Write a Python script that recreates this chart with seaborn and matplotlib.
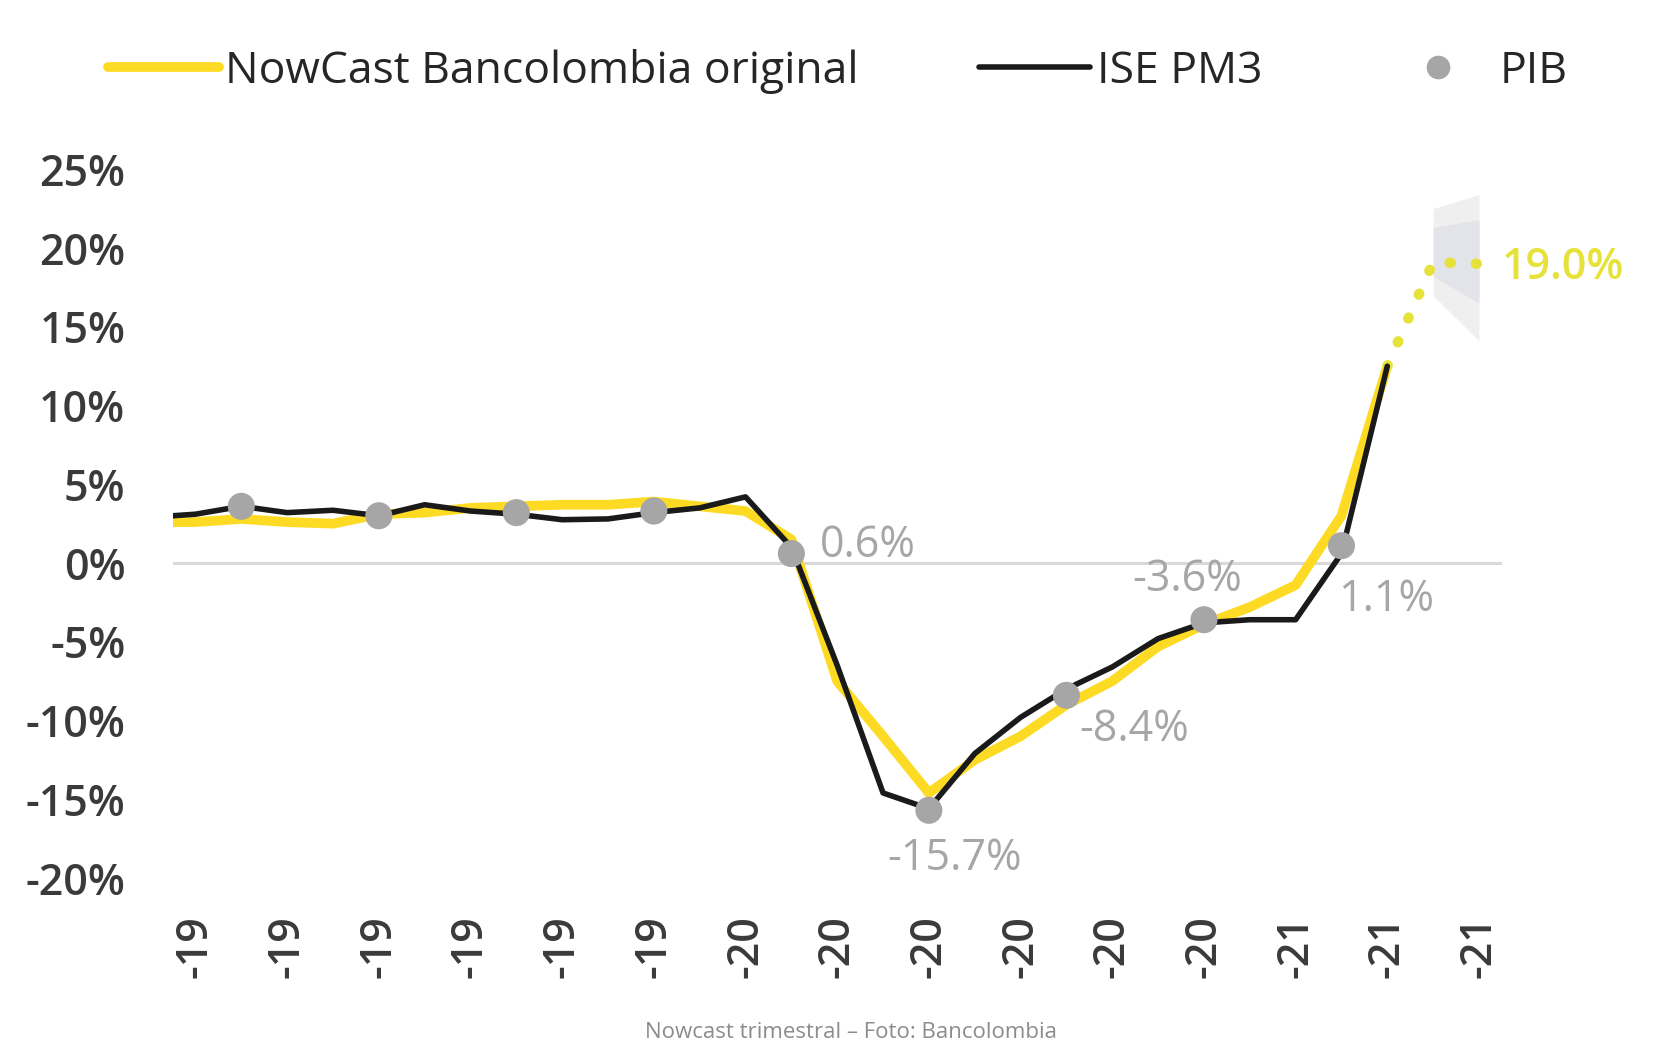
import numpy as np
import matplotlib
matplotlib.use("Agg")
import matplotlib.pyplot as plt
import seaborn as sns
from matplotlib.lines import Line2D

# monthly index, 0 = ene-19
month_idx = list(range(28))
ise_pm3 = [2.9, 3.1, 3.6, 3.2, 3.35, 3.0, 3.7, 3.3, 3.1, 2.75, 2.8, 3.2, 3.5, 4.2,
           1.0, -6.5, -14.6, -15.6, -12.1, -9.8, -8.0, -6.6, -4.8, -3.8, -3.6, -3.6,
           0.6, 12.5]
nowcast = [2.6, 2.6, 2.8, 2.6, 2.5, 3.1, 3.2, 3.5, 3.6, 3.7, 3.7, 3.9, 3.6, 3.3,
           1.5, -7.5, -11.0, -14.6, -12.5, -11.0, -9.0, -7.5, -5.3, -3.9, -2.8, -1.4,
           3.0, 12.5]

# forecast (dotted) and its band
fc_months = [27, 28, 29]
fc_vals = [12.5, 19.1, 19.0]
band_months = [28, 29]
band_outer_lo = [17.0, 14.1]
band_outer_hi = [22.5, 23.4]
band_inner_lo = [18.2, 16.5]
band_inner_hi = [21.3, 21.8]

# quarterly GDP
pib_months = [2, 5, 8, 11, 14, 17, 20, 23, 26]
pib = [3.6, 3.0, 3.2, 3.3, 0.6, -15.7, -8.4, -3.6, 1.1]
# label offsets in pixels (dx, dy, ha) for labelled quarters
pib_labels = {14: (29, 8, "left"), 17: (26, -48, "center"), 20: (13, -34, "left"),
              23: (-17, 40, "center"), 26: (-3, -54, "left")}

tick_pos = list(range(1, 30, 2))
tick_years = ["19"] * 6 + ["20"] * 6 + ["21"] * 3
tick_labels = ["-" + y for y in tick_years]

yticks = [-20, -15, -10, -5, 0, 5, 10, 15, 20, 25]

YELLOW = "#FDDA24"
FC_YELLOW = "#E6E23A"
BLACK = "#1a1a1a"
GRAY = "#A6A6A6"
TXT = "#3a3a3a"

sns.set_theme(style="white")
plt.rcParams["font.family"] = ["Open Sans", "DejaVu Sans"]

fig = plt.figure(figsize=(16.59, 10.64), dpi=100)
ax = fig.add_axes([0.104, 0.1748, 0.8013, 0.6661])

ax.axhline(0, color="#D9D9D9", lw=2.2, zorder=1)

ax.fill_between(band_months, band_outer_lo, band_outer_hi, color="#EFEFEF", lw=0, zorder=1)
ax.fill_between(band_months, band_inner_lo, band_inner_hi, color="#E3E3EA", lw=0, zorder=1)

sns.lineplot(x=month_idx, y=nowcast, color=YELLOW, linewidth=7, ax=ax, zorder=2)
sns.lineplot(x=month_idx, y=ise_pm3, color=BLACK, linewidth=4, ax=ax, zorder=3)
ax.plot(fc_months, fc_vals, color=FC_YELLOW, lw=7.5, linestyle=(0, (0.1, 2.4)),
        dash_capstyle="round", zorder=2)
sns.scatterplot(x=pib_months, y=pib, color=GRAY, s=380, edgecolor="none", ax=ax, zorder=4)

for m, v in zip(pib_months, pib):
    if m in pib_labels:
        dx, dy, ha = pib_labels[m]
        ax.annotate(f"{v:.1f}%", (m, v), xytext=(dx, dy), textcoords="offset pixels",
                    ha=ha, va="center", fontsize=31, color=GRAY, zorder=5)

ax.annotate(f"{fc_vals[-1]:.1f}%", (fc_months[-1], fc_vals[-1]), xytext=(23, -4),
            textcoords="offset pixels", ha="left", va="center", fontsize=31,
            color=FC_YELLOW, fontweight="semibold")

ax.set_xlim(0.5, 29.5)
ax.set_ylim(-20, 25)
ax.set_yticks(yticks)
ax.set_yticklabels([f"{t}%" for t in yticks], fontsize=31, color=TXT, fontweight="semibold")
ax.set_xticks(tick_pos)
ax.set_xticklabels(tick_labels, rotation=90, fontsize=31, color=TXT, fontweight="semibold")
ax.tick_params(axis="y", length=0, pad=34)
ax.tick_params(axis="x", length=0, pad=27)
for s in ax.spines.values():
    s.set_visible(False)
ax.grid(False)

handles = [Line2D([], [], color=YELLOW, lw=7),
           Line2D([], [], color=BLACK, lw=4),
           Line2D([], [], color=GRAY, marker="o", ms=16, lw=0)]
fig.legend(handles, ["NowCast Bancolombia original", "ISE PM3", "PIB"],
           loc="center", bbox_to_anchor=(0.505, 0.933), ncol=3, frameon=False,
           fontsize=32, handlelength=2.5, handletextpad=0.15, columnspacing=2.7,
           labelcolor="#262626")

fig.text(0.513, 0.030, "Nowcast trimestral \u2013 Foto: Bancolombia", ha="center",
         va="center", fontsize=16, color="#8C8C8C")

fig.savefig("out.png", dpi=100)
